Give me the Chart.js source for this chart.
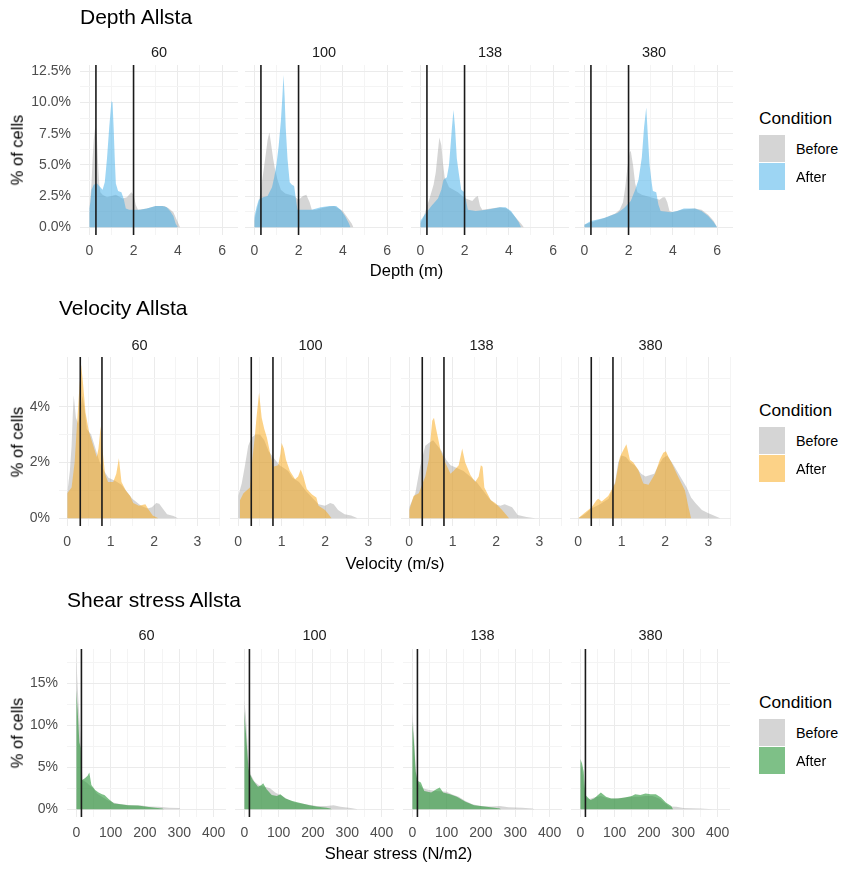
<!DOCTYPE html>
<html>
<head>
<meta charset="utf-8">
<script src="https://cdn.jsdelivr.net/npm/chart.js@4.4.0/dist/chart.umd.min.js"></script>
<style>
  body { margin: 0; background: #fff; font-family: "Liberation Sans", Arial, sans-serif; }
  #wrap { position: relative; width: 844px; height: 869px; overflow: hidden; }
  #wrap canvas { position: absolute; }
  .t { position: absolute; white-space: nowrap; line-height: 1; }
  .key { position: absolute; width: 26px; height: 27px; }
</style>
</head>
<body>
<div id="wrap"></div>
<script>
// facets and legend entries
const stations = ['60', '100', '138', '380'];
const conditions = ['Before', 'After'];

// threshold lines
const depthLines = [0.3, 2.0];
const velocityLines = [0.3, 0.8];
const shearLines = [15];

// tick values (major get a label, minor only a thin grid line)
const depthXMajor = [0, 2, 4, 6];
const depthXMinor = [1, 3, 5];
const depthYMajor = [0, 2.5, 5, 7.5, 10, 12.5];
const depthYMinor = [1.25, 3.75, 6.25, 8.75, 11.25];
const velocityXMajor = [0, 1, 2, 3];
const velocityXMinor = [0.5, 1.5, 2.5, 3.5];
const velocityYMajor = [0, 2, 4];
const velocityYMinor = [1, 3, 5];
const shearXMajor = [0, 100, 200, 300, 400];
const shearXMinor = [50, 150, 250, 350];
const shearYMajor = [0, 5, 10, 15];
const shearYMinor = [2.5, 7.5, 12.5, 17.5];

// ---- Depth (m), % of cells ----
const depthBefore60 = [[0,1.2],[0.05,2.5],[0.1,3.5],[0.15,5.5],[0.2,7.0],[0.25,7.8],[0.3,8.1],[0.35,7.0],[0.4,5.0],[0.45,3.5],[0.5,2.8],[0.6,2.6],[0.8,2.4],[1.0,2.5],[1.2,2.6],[1.4,2.4],[1.5,2.3],[1.7,2.4],[1.9,2.8],[2.0,2.6],[2.1,1.8],[2.2,1.4],[2.6,1.5],[3.0,1.7],[3.4,1.7],[3.6,1.5],[3.8,1.2],[3.9,0.8],[4.0,0.4],[4.1,0]];
const depthAfter60 = [[0,1.5],[0.05,2.0],[0.1,3.0],[0.2,3.4],[0.35,3.5],[0.5,3.2],[0.6,3.0],[0.7,3.6],[0.8,5.5],[0.9,8.0],[1.0,10.1],[1.05,10.0],[1.1,8.0],[1.15,5.5],[1.2,3.5],[1.3,2.9],[1.45,2.8],[1.55,2.3],[1.65,1.5],[1.8,1.4],[2.0,1.4],[2.3,1.4],[2.6,1.5],[2.8,1.6],[3.0,1.7],[3.3,1.7],[3.5,1.6],[3.65,1.3],[3.8,0.9],[3.9,0.3],[4.0,0]];
const depthBefore100 = [[0,0.5],[0.1,1.3],[0.2,2.0],[0.3,3.0],[0.4,4.3],[0.5,5.6],[0.6,7.0],[0.68,7.6],[0.75,6.8],[0.85,5.5],[0.95,4.5],[1.05,3.8],[1.2,3.0],[1.4,2.7],[1.6,2.6],[1.8,2.5],[2.0,2.2],[2.2,2.5],[2.35,2.6],[2.5,2.0],[2.6,1.4],[2.8,1.4],[3.2,1.6],[3.6,1.7],[4.0,1.3],[4.2,0.8],[4.4,0.3],[4.48,0]];
const depthAfter100 = [[0,0.8],[0.1,1.6],[0.2,2.2],[0.4,2.4],[0.6,2.5],[0.8,3.2],[0.9,4.0],[1.0,5.0],[1.1,6.5],[1.2,8.5],[1.27,10.5],[1.32,12.2],[1.37,10.5],[1.42,8.0],[1.5,5.5],[1.6,3.6],[1.7,3.4],[1.8,3.3],[1.9,2.0],[1.95,1.4],[2.3,1.4],[2.6,1.4],[3.0,1.6],[3.4,1.7],[3.7,1.7],[3.9,1.4],[4.1,0.9],[4.25,0.4],[4.35,0]];
const depthBefore138 = [[0,0.3],[0.1,0.6],[0.2,1.1],[0.3,1.7],[0.4,2.2],[0.5,2.8],[0.6,3.4],[0.7,4.4],[0.78,5.8],[0.86,7.2],[0.95,6.6],[1.02,5.2],[1.1,4.0],[1.3,3.2],[1.5,3.0],[1.7,2.8],[1.9,2.5],[2.05,2.3],[2.2,2.2],[2.35,2.1],[2.5,2.4],[2.6,2.5],[2.7,1.7],[2.8,1.4],[3.2,1.5],[3.6,1.6],[3.9,1.5],[4.1,1.2],[4.3,0.8],[4.5,0.4],[4.68,0]];
const depthAfter138 = [[0,0.5],[0.2,1.0],[0.5,1.7],[0.8,2.3],[0.95,3.0],[1.05,3.8],[1.2,4.0],[1.3,5.0],[1.37,6.6],[1.43,8.0],[1.5,9.4],[1.57,8.0],[1.65,5.5],[1.75,4.2],[1.85,3.0],[2.0,2.8],[2.08,2.0],[2.15,1.4],[2.5,1.3],[3.0,1.4],[3.3,1.5],[3.6,1.6],[3.85,1.6],[4.1,1.3],[4.3,0.8],[4.45,0.4],[4.55,0]];
const depthBefore380 = [[0,0.2],[0.5,0.5],[1.0,0.8],[1.4,1.1],[1.6,1.4],[1.75,2.0],[1.85,3.2],[1.95,4.8],[2.05,6.0],[2.1,6.1],[2.2,5.0],[2.3,3.5],[2.4,2.8],[2.6,2.6],[2.8,2.5],[3.0,2.4],[3.2,2.3],[3.4,2.2],[3.55,2.4],[3.65,2.4],[3.75,2.0],[3.85,1.3],[4.0,1.2],[4.4,1.4],[5.0,1.5],[5.3,1.4],[5.6,1.0],[5.85,0.5],[6.0,0]];
const depthAfter380 = [[0,0.2],[0.3,0.5],[0.9,0.75],[1.5,1.15],[1.8,1.55],[2.1,2.1],[2.3,3.0],[2.45,3.8],[2.6,5.6],[2.7,8.0],[2.8,9.6],[2.87,7.4],[2.95,5.0],[3.05,3.5],[3.1,2.9],[3.25,2.8],[3.35,1.8],[3.45,1.3],[3.9,1.2],[4.2,1.3],[4.5,1.5],[5.0,1.5],[5.3,1.3],[5.6,0.9],[5.85,0.4],[6.0,0]];

// ---- Velocity (m/s), % of cells ----
const velocityBefore60 = [[0,0.9],[0.06,1.7],[0.1,2.6],[0.13,3.8],[0.15,4.4],[0.2,3.6],[0.25,3.4],[0.3,3.8],[0.35,4.4],[0.4,3.9],[0.45,3.2],[0.55,3.0],[0.65,2.5],[0.75,2.0],[0.85,1.7],[0.95,1.45],[1.1,1.35],[1.25,1.2],[1.35,1.0],[1.5,0.7],[1.7,0.45],[1.85,0.35],[1.95,0.4],[2.05,0.55],[2.12,0.52],[2.2,0.35],[2.3,0.15],[2.45,0.08],[2.55,0]];
const velocityAfter60 = [[0,0.9],[0.1,1.1],[0.17,2.0],[0.21,3.0],[0.28,4.7],[0.32,5.5],[0.36,4.9],[0.42,3.8],[0.5,3.1],[0.6,2.6],[0.68,2.2],[0.72,2.5],[0.77,3.3],[0.81,2.5],[0.87,1.6],[0.94,1.3],[1.06,1.3],[1.13,1.6],[1.19,2.15],[1.25,1.3],[1.35,1.0],[1.45,0.8],[1.52,0.55],[1.65,0.45],[1.8,0.5],[1.88,0.3],[1.97,0.1],[2.1,0]];
const velocityBefore100 = [[0,0.8],[0.08,1.25],[0.15,1.85],[0.23,2.6],[0.31,2.9],[0.4,3.0],[0.5,3.0],[0.6,2.8],[0.7,2.4],[0.85,2.1],[0.95,1.9],[1.05,1.8],[1.15,1.7],[1.25,1.45],[1.4,1.3],[1.55,1.0],[1.7,0.75],[1.85,0.5],[2.0,0.45],[2.12,0.55],[2.2,0.5],[2.3,0.3],[2.45,0.15],[2.6,0.1],[2.75,0]];
const velocityAfter100 = [[0.02,0],[0.04,0.65],[0.12,0.9],[0.27,1.1],[0.33,2.2],[0.38,2.9],[0.42,3.6],[0.48,4.5],[0.54,3.6],[0.6,3.2],[0.66,2.9],[0.74,2.3],[0.81,1.85],[0.92,1.9],[0.97,2.3],[1.0,2.7],[1.05,2.5],[1.1,2.1],[1.19,1.7],[1.31,1.4],[1.38,1.5],[1.44,1.75],[1.5,1.5],[1.58,1.05],[1.7,0.85],[1.8,0.75],[1.85,0.45],[2.0,0.3],[2.08,0.15],[2.15,0]];
const velocityBefore138 = [[0,0.4],[0.14,0.9],[0.25,1.85],[0.37,2.6],[0.45,2.7],[0.55,2.8],[0.65,2.6],[0.75,2.4],[0.85,2.1],[0.95,1.9],[1.1,1.8],[1.25,1.7],[1.4,1.5],[1.55,1.3],[1.7,1.0],[1.85,0.7],[1.98,0.5],[2.1,0.45],[2.2,0.5],[2.37,0.4],[2.5,0.12],[2.7,0.05],[2.9,0]];
const velocityAfter138 = [[0,0.3],[0.1,0.8],[0.22,0.9],[0.37,1.5],[0.45,2.1],[0.5,3.0],[0.53,3.5],[0.57,3.6],[0.62,3.2],[0.72,2.45],[0.83,2.0],[0.95,1.6],[1.02,1.7],[1.14,1.9],[1.22,2.5],[1.29,2.0],[1.41,1.55],[1.52,1.3],[1.6,1.5],[1.65,1.9],[1.69,1.85],[1.73,1.1],[1.88,0.65],[1.98,0.55],[2.14,0.3],[2.3,0]];
const velocityBefore380 = [[0,0],[0.15,0.15],[0.3,0.35],[0.5,0.5],[0.7,0.7],[0.85,1.3],[0.92,2.0],[1.0,2.25],[1.1,2.2],[1.2,2.0],[1.3,1.9],[1.45,1.6],[1.55,1.5],[1.75,1.6],[1.85,1.9],[1.95,2.15],[2.05,2.25],[2.2,1.9],[2.35,1.5],[2.5,1.1],[2.6,0.75],[2.7,0.55],[2.85,0.3],[3.0,0.18],[3.15,0.08],[3.27,0]];
const velocityAfter380 = [[0,0],[0.15,0.2],[0.31,0.4],[0.42,0.65],[0.46,0.7],[0.54,0.6],[0.69,0.8],[0.85,1.25],[0.96,2.2],[1.04,2.45],[1.11,2.65],[1.19,2.1],[1.27,2.0],[1.38,1.75],[1.5,1.25],[1.62,1.2],[1.77,1.6],[1.88,2.1],[1.96,2.35],[2.02,2.4],[2.08,2.2],[2.15,2.0],[2.3,1.5],[2.46,1.0],[2.54,0.4],[2.6,0]];

// ---- Shear stress (N/m2), % of cells ----
const shearBefore60 = [[0,18.2],[4,14.5],[9,11],[14,7.5],[18,3.5],[30,3.2],[40,2.8],[50,2.5],[60,1.9],[75,1.5],[90,1.1],[110,0.8],[130,0.6],[160,0.5],[190,0.45],[210,0.35],[240,0.3],[270,0.2],[300,0.15],[303,0]];
const shearAfter60 = [[0,14.2],[4,11.8],[9,8],[13,7.3],[15,4],[17,3.5],[25,3.7],[33,4.0],[38,4.4],[44,2.9],[55,2.3],[65,2.0],[75,1.8],[82,1.7],[95,1.2],[110,0.7],[130,0.6],[150,0.5],[180,0.45],[200,0.35],[230,0.2],[250,0.1],[255,0]];
const shearBefore100 = [[0,13.0],[5,11],[12,6],[18,4.2],[30,3.3],[45,2.8],[60,2.7],[75,2.5],[90,2.0],[110,1.6],[130,1.1],[150,0.8],[180,0.6],[210,0.4],[240,0.4],[260,0.5],[280,0.3],[310,0.15],[330,0]];
const shearAfter100 = [[0,11.7],[5,9],[12,5],[15,4.3],[25,3.5],[40,2.7],[50,2.9],[55,3.1],[65,2.4],[80,1.7],[95,1.6],[105,1.8],[120,1.3],[140,1.0],[160,0.8],[190,0.5],[215,0.3],[240,0.2],[250,0.1],[255,0]];
const shearBefore138 = [[0,11.5],[5,9],[10,5],[15,3.3],[30,2.5],[50,2.3],[70,2.2],[100,2.1],[115,1.8],[135,1.5],[155,1.0],[175,0.6],[200,0.4],[230,0.35],[255,0.4],[280,0.25],[320,0.2],[350,0.1],[355,0]];
const shearAfter138 = [[0,10.5],[5,8],[10,4.5],[15,3.4],[25,3.2],[35,2.2],[55,2.0],[70,2.4],[80,2.6],[90,2.0],[110,1.8],[130,1.5],[155,0.9],[180,0.5],[210,0.35],[240,0.2],[255,0.1],[258,0]];
const shearBefore380 = [[0,5.5],[5,4.8],[10,3.0],[15,1.5],[25,1.2],[40,1.4],[60,1.6],[80,1.3],[100,1.3],[130,1.4],[150,1.5],[170,1.5],[190,1.6],[210,1.6],[230,1.3],[245,0.8],[260,0.35],[280,0.3],[300,0.15],[350,0.1],[385,0]];
const shearAfter380 = [[0,6.0],[5,5.5],[10,4.5],[15,1.7],[20,1.5],[30,1.1],[40,1.3],[60,2.0],[75,1.5],[90,1.3],[110,1.3],[130,1.4],[150,1.6],[160,1.8],[175,1.7],[190,1.9],[205,1.8],[220,1.8],[235,1.4],[250,0.8],[265,0.4],[270,0]];

const depthBefore = [depthBefore60, depthBefore100, depthBefore138, depthBefore380];
const depthAfter = [depthAfter60, depthAfter100, depthAfter138, depthAfter380];
const velocityBefore = [velocityBefore60, velocityBefore100, velocityBefore138, velocityBefore380];
const velocityAfter = [velocityAfter60, velocityAfter100, velocityAfter138, velocityAfter380];
const shearBefore = [shearBefore60, shearBefore100, shearBefore138, shearBefore380];
const shearAfter = [shearAfter60, shearAfter100, shearAfter138, shearAfter380];

// layout of the three facet rows (pixels)
const FONT = '"Liberation Sans", Arial, sans-serif';
const beforeFill = 'rgba(150,150,150,0.4)';
const rows = [
  { title: 'Depth Allsta', xTitle: 'Depth (m)', before: depthBefore, after: depthAfter,
    afterFill: 'rgba(60,172,232,0.5)', lines: depthLines,
    xMajor: depthXMajor, xMinor: depthXMinor, yMajor: depthYMajor, yMinor: depthYMinor,
    yFmt: v => v.toFixed(1) + '%',
    lefts: [80, 245, 411, 575], width: 158, top: 65, height: 170,
    xMin: -0.42, xMax: 6.72, yMin: -0.62, yMax: 13.0,
    titleY: 16, stripY: 52, xTitleY: 270, legendY: 119 },
  { title: 'Velocity Allsta', xTitle: 'Velocity (m/s)', before: velocityBefore, after: velocityAfter,
    afterFill: 'rgba(250,165,15,0.5)', lines: velocityLines,
    xMajor: velocityXMajor, xMinor: velocityXMinor, yMajor: velocityYMajor, yMinor: velocityYMinor,
    yFmt: v => v + '%',
    lefts: [59, 230, 401, 570], width: 161, top: 357, height: 169,
    xMin: -0.19, xMax: 3.52, yMin: -0.275, yMax: 5.78,
    titleY: 307, stripY: 345, xTitleY: 563, legendY: 411 },
  { title: 'Shear stress Allsta', xTitle: 'Shear stress (N/m2)', before: shearBefore, after: shearAfter,
    afterFill: 'rgba(40,150,55,0.6)', lines: shearLines,
    xMajor: shearXMajor, xMinor: shearXMinor, yMajor: shearYMajor, yMinor: shearYMinor,
    yFmt: v => v + '%',
    lefts: [67, 235, 403, 571], width: 159, top: 649, height: 168,
    xMin: -27, xMax: 436, yMin: -0.91, yMax: 19.1,
    titleY: 599, stripY: 635, xTitleY: 853, legendY: 703 }
];

const wrap = document.getElementById('wrap');
// top padding is large so the y tick labels never push the plot area down
const PAD = 8, PAD_TOP = 24, YAXIS_W = 52, XAXIS_H = 28;

function addText(txt, x, y, size, color, align, rotate) {
  const d = document.createElement('div');
  d.className = 't';
  d.textContent = txt;
  d.style.left = x + 'px';
  d.style.top = y + 'px';
  d.style.fontSize = size + 'px';
  d.style.color = color;
  let tf = align === 'left' ? 'translate(0,-50%)' : 'translate(-50%,-50%)';
  if (rotate) tf += ' rotate(-90deg)';
  d.style.transform = tf;
  wrap.appendChild(d);
}

const isMajor = (list, v) => list.some(m => Math.abs(m - v) < 1e-9);

// black threshold lines across the whole panel
const vlinePlugin = {
  id: 'vlines',
  afterDatasetsDraw(chart, args, opts) {
    const { ctx, chartArea, scales } = chart;
    ctx.save();
    ctx.strokeStyle = '#1a1a1a';
    ctx.lineWidth = 1.6;
    opts.values.forEach(v => {
      const x = scales.x.getPixelForValue(v);
      ctx.beginPath();
      ctx.moveTo(x, chartArea.top);
      ctx.lineTo(x, chartArea.bottom);
      ctx.stroke();
    });
    ctx.restore();
  }
};

function gridColor(major) {
  return ctx => isMajor(major, ctx.tick.value) ? '#ebebeb' : '#f4f4f4';
}

rows.forEach(row => {
  stations.forEach((st, i) => {
    const first = i === 0;
    const yW = first ? YAXIS_W : 0;
    const cv = document.createElement('canvas');
    const w = PAD + yW + row.width + PAD;
    const h = PAD_TOP + row.height + XAXIS_H;
    cv.width = w; cv.height = h;
    cv.style.left = (row.lefts[i] - yW - PAD) + 'px';
    cv.style.top = (row.top - PAD_TOP) + 'px';
    cv.style.width = w + 'px'; cv.style.height = h + 'px';
    wrap.appendChild(cv);

    const xTicks = row.xMajor.concat(row.xMinor).sort((a, b) => a - b);
    const yTicks = row.yMajor.concat(row.yMinor).sort((a, b) => a - b);

    new Chart(cv, {
      type: 'line',
      data: {
        datasets: [
          { label: conditions[1], data: row.after[i], backgroundColor: row.afterFill,
            fill: 'origin', borderWidth: 0, pointRadius: 0, tension: 0 },
          { label: conditions[0], data: row.before[i], backgroundColor: beforeFill,
            fill: 'origin', borderWidth: 0, pointRadius: 0, tension: 0 }
        ]
      },
      options: {
        responsive: false,
        animation: false,
        events: [],
        layout: { padding: { top: PAD_TOP, left: PAD, right: PAD, bottom: 0 } },
        plugins: { legend: { display: false }, tooltip: { enabled: false },
                   vlines: { values: row.lines } },
        scales: {
          x: {
            type: 'linear', min: row.xMin, max: row.xMax,
            afterBuildTicks: s => { s.ticks = xTicks.map(v => ({ value: v })); },
            afterFit: s => { s.height = XAXIS_H; },
            grid: { color: gridColor(row.xMajor), lineWidth: 1, drawTicks: false },
            border: { display: false },
            ticks: { autoSkip: false, maxRotation: 0, padding: 8, color: '#4d4d4d',
                     font: { family: FONT, size: 14 },
                     callback: v => isMajor(row.xMajor, v) ? String(v) : '' }
          },
          y: {
            type: 'linear', min: row.yMin, max: row.yMax,
            afterBuildTicks: s => { s.ticks = yTicks.map(v => ({ value: v })); },
            afterFit: s => { s.width = yW; },
            grid: { color: gridColor(row.yMajor), lineWidth: 1, drawTicks: false },
            border: { display: false },
            ticks: { display: first, autoSkip: false, padding: 9, color: '#4d4d4d',
                     font: { family: FONT, size: 14 },
                     callback: v => isMajor(row.yMajor, v) ? row.yFmt(v) : '' }
          }
        }
      },
      plugins: [vlinePlugin]
    });

    // strip label above each panel
    addText(st, row.lefts[i] + row.width / 2, row.stripY, 14.5, '#1a1a1a', 'center');
  });

  const left = row.lefts[0];
  const right = row.lefts[3] + row.width;
  addText(row.title, left, row.titleY, 21, '#000', 'left');
  addText(row.xTitle, (left + right) / 2, row.xTitleY, 16.5, '#000', 'center');
  addText('% of cells', 17, row.top + row.height / 2, 16.5, '#000', 'center', true);

  // legend
  addText('Condition', 759, row.legendY, 17.3, '#000', 'left');
  [beforeFill, row.afterFill].forEach((c, k) => {
    const box = document.createElement('div');
    box.className = 'key';
    box.style.left = '759px';
    box.style.top = (row.legendY + 16 + k * 28) + 'px';
    box.style.background = c;
    wrap.appendChild(box);
    addText(conditions[k], 796, row.legendY + 16 + k * 28 + 14, 14.3, '#000', 'left');
  });
});
</script>
</body>
</html>
